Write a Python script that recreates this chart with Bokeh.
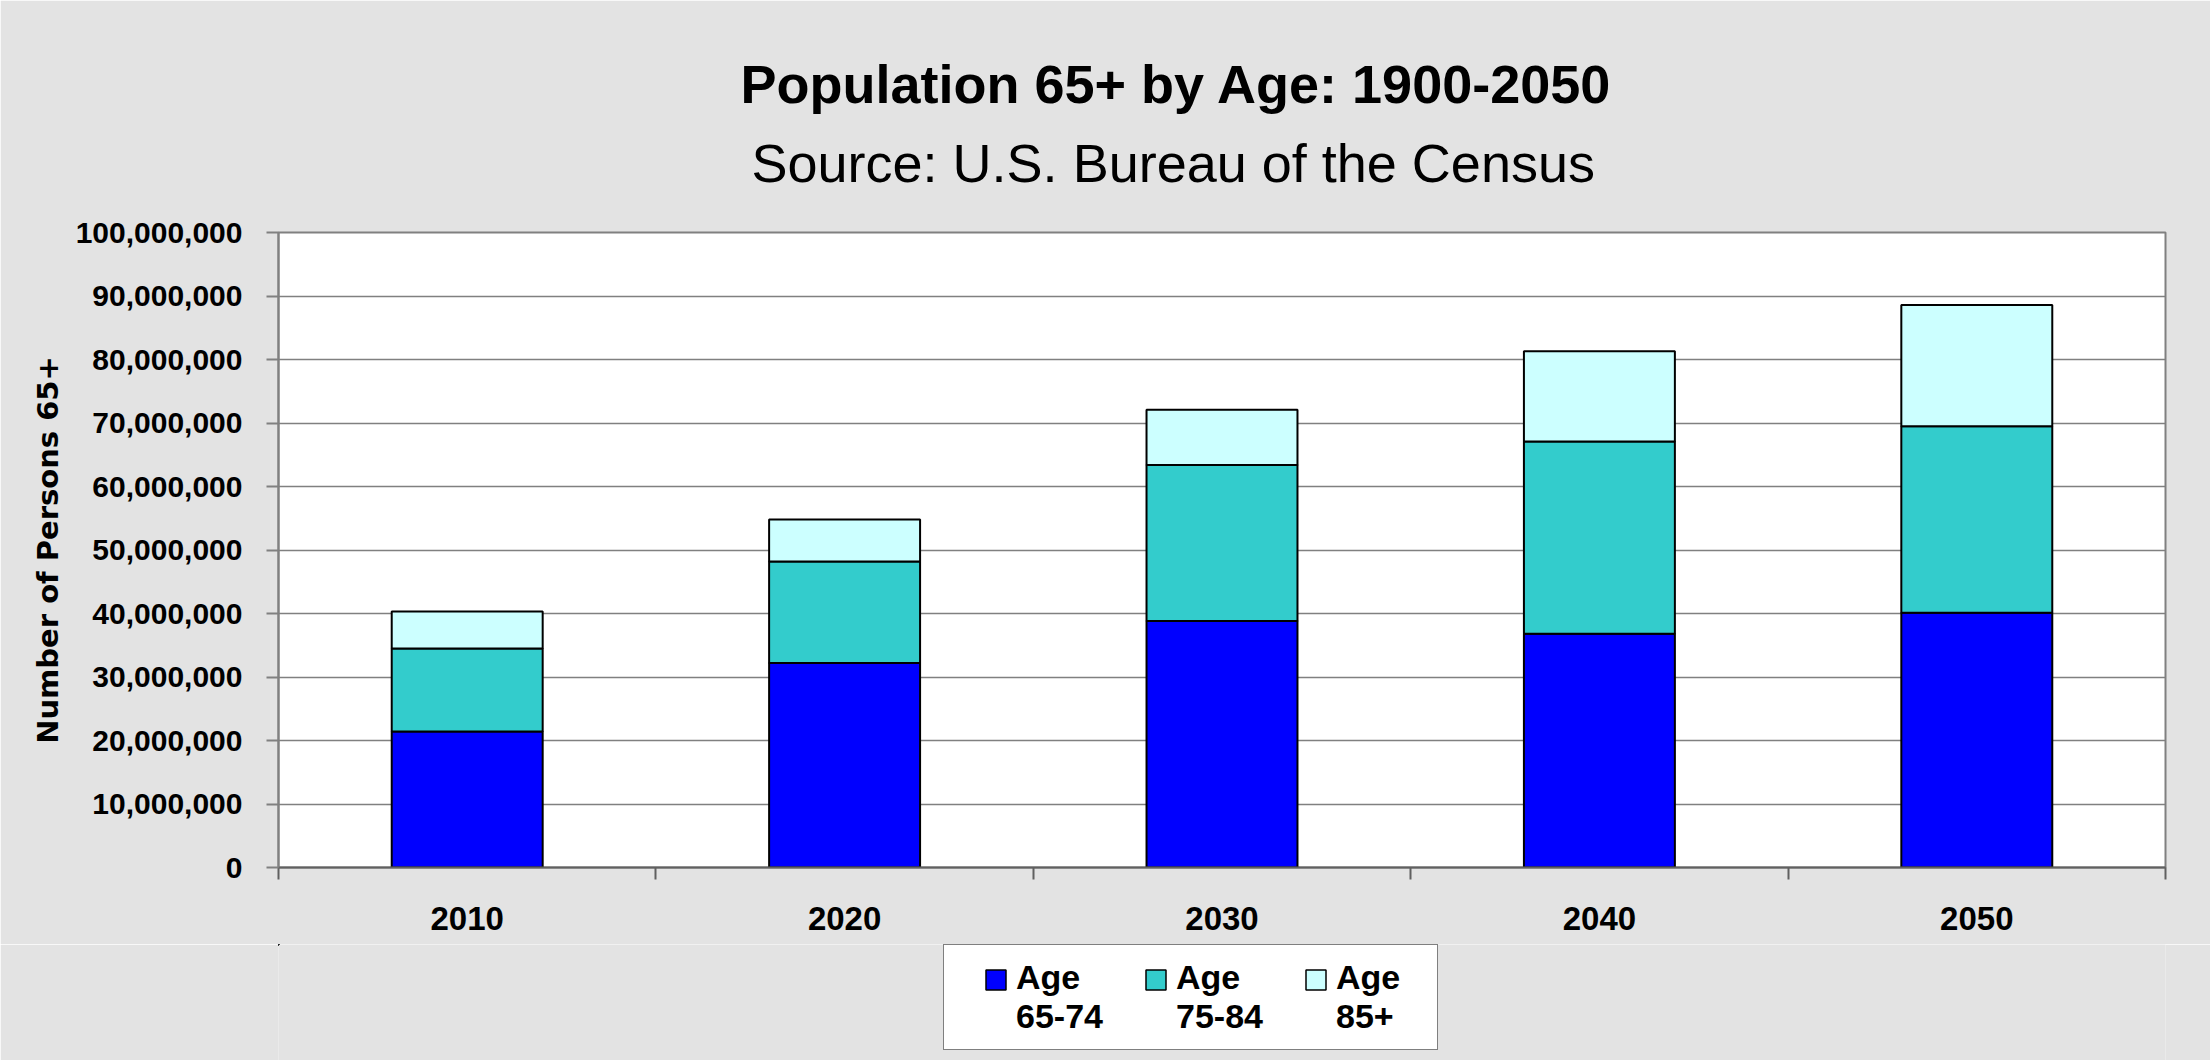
from bokeh.plotting import figure
from bokeh.layouts import column
from bokeh.models import (ColumnDataSource, Range1d, FixedTicker, NumeralTickFormatter,
                          Legend, LegendItem, Title)
from bokeh.embed import file_html
from bokeh.resources import INLINE

# ---- data ----
years = ["2010", "2020", "2030", "2040", "2050"]
age_65_74 = [21.4e6, 32.2e6, 38.8e6, 36.8e6, 40.1e6]
age_75_84 = [13.1e6, 16.0e6, 24.6e6, 30.3e6, 29.4e6]
age_85_plus = [5.8e6, 6.6e6, 8.7e6, 14.2e6, 19.1e6]
series_labels = ["Age\n65-74", "Age\n75-84", "Age\n85+"]
series_colors = ["#0000FF", "#33CCCC", "#CCFFFF"]
y_ticks = [0, 10e6, 20e6, 30e6, 40e6, 50e6, 60e6, 70e6, 80e6, 90e6, 100e6]

FONT = "Liberation Sans"
BG = "#E3E3E3"

n = len(years)
centers = [i + 0.5 for i in range(n)]
bounds = [float(i) for i in range(n + 1)]

source = ColumnDataSource(dict(x=centers, a=age_65_74, b=age_75_84, c=age_85_plus))

p = figure(width=2210, height=944, x_range=Range1d(0, n), y_range=Range1d(0, 100e6),
           output_backend="svg", toolbar_location=None, title=None,
           min_border_left=278, min_border_right=45, min_border_top=232, min_border_bottom=77)
p.background_fill_color = "white"
p.border_fill_color = BG
p.outline_line_color = "#808080"
p.outline_line_width = 2

sub = Title(text="Source: U.S. Bureau of the Census", align="left", offset=473,
            text_font=FONT, text_font_size="54px", text_font_style="normal",
            text_color="black", standoff=79)
p.add_layout(sub, "above")
main = Title(text="Population 65+ by Age: 1900-2050", align="left", offset=462,
             text_font=FONT, text_font_size="54px", text_font_style="bold",
             text_color="black", standoff=-45)
p.add_layout(main, "above")

renderers = p.vbar_stack(["a", "b", "c"], x="x", width=0.4, source=source,
                         fill_color=series_colors, line_color="black", line_width=2)

# y axis
p.yaxis.ticker = FixedTicker(ticks=y_ticks)
p.yaxis.formatter = NumeralTickFormatter(format="0,0")
p.yaxis.major_label_text_font = FONT
p.yaxis.major_label_text_font_size = "30px"
p.yaxis.major_label_text_font_style = "bold"
p.yaxis.major_label_text_color = "black"
p.yaxis.major_label_standoff = 24
p.yaxis.major_tick_out = 12
p.yaxis.major_tick_in = 0
p.yaxis.major_tick_line_color = "#808080"
p.yaxis.major_tick_line_width = 2
p.yaxis.minor_tick_line_color = None
p.yaxis.axis_line_color = "#808080"
p.yaxis.axis_line_width = 2
p.yaxis.axis_label = "Number of Persons 65+"
p.yaxis.axis_label_text_font = "DejaVu Sans"
p.yaxis.axis_label_text_font_style = "bold"
p.yaxis.axis_label_text_font_size = "29px"
p.yaxis.axis_label_text_color = "black"
p.yaxis.axis_label_standoff = 8

# x axis
p.xaxis.ticker = FixedTicker(ticks=centers, minor_ticks=bounds)
p.xaxis.major_label_overrides = {c: y for c, y in zip(centers, years)}
p.xaxis.major_label_text_font = FONT
p.xaxis.major_label_text_font_size = "33px"
p.xaxis.major_label_text_font_style = "bold"
p.xaxis.major_label_text_color = "black"
p.xaxis.major_tick_line_color = None
p.xaxis.major_tick_out = 0
p.xaxis.major_tick_in = 0
p.xaxis.minor_tick_out = 12
p.xaxis.minor_tick_in = 0
p.xaxis.minor_tick_line_color = "#606060"
p.xaxis.minor_tick_line_width = 2
p.xaxis.major_label_standoff = 27
p.xaxis.axis_line_color = "#606060"
p.xaxis.axis_line_width = 2

p.xgrid.grid_line_color = None
p.ygrid.grid_line_color = "#808080"
p.ygrid.grid_line_width = 1.5

# ---- legend strip below the chart (same horizontal borders as the chart) ----
lf = figure(width=2210, height=116, x_range=Range1d(1000, 1000 + n), y_range=Range1d(-2e8, -1e8),
            output_backend="svg", toolbar_location=None, title=None,
            x_axis_type=None, y_axis_type=None,
            min_border_left=278, min_border_right=45, min_border_top=0, min_border_bottom=0)
lf.background_fill_color = BG
lf.border_fill_color = BG
lf.outline_line_color = None
lf.xgrid.visible = False
lf.ygrid.visible = False

# the same stacked series, kept outside this strip's visible range: they only feed the legends
swatch_r = lf.vbar_stack(["a", "b", "c"], x="x", width=0.4, source=source,
                         fill_color=series_colors, line_color="black", line_width=1.5)
hidden_r = lf.vbar_stack(["a", "b", "c"], x="x", width=0.4, source=source,
                         fill_color=series_colors, fill_alpha=0, line_alpha=0)

common = dict(orientation="horizontal",
              title=" ", title_location="left", title_text_font_size="2px", title_standoff=27,
              label_text_font=FONT, label_text_font_size="34px",
              label_text_font_style="bold", label_text_color="black",
              label_width=88, label_standoff=10, padding=13, margin=0)

# box + two-line labels
legend_text = Legend(items=[LegendItem(label=lab, renderers=[r])
                            for lab, r in zip(series_labels, hidden_r)],
                     location=(665, 10), glyph_width=20, glyph_height=20, spacing=42,
                     border_line_color="black", border_line_width=1.5,
                     background_fill_color="white", background_fill_alpha=1.0, **common)
lf.add_layout(legend_text, "center")

# colour swatches, level with the first label line
legend_swatch = Legend(items=[LegendItem(label=" ", renderers=[r]) for r in swatch_r],
                       location=(676, 68), glyph_width=25, glyph_height=25, spacing=37,
                       border_line_color=None, background_fill_alpha=0.0, **common)
lf.add_layout(legend_swatch, "center")

layout = column(p, lf, spacing=0)
open("out.html", "w").write(file_html(layout, INLINE))
